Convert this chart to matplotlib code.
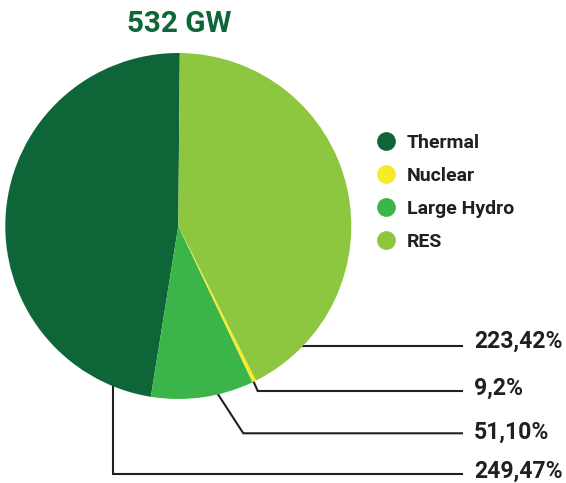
import matplotlib
matplotlib.use("Agg")
import matplotlib.pyplot as plt
from matplotlib.lines import Line2D

# ---- data ----
categories = ["Thermal", "Nuclear", "Large Hydro", "RES"]
capacity_gw = [249, 9, 51, 223]
share_pct = [47, 2, 10, 42]
# slice sizes as drawn in the reference (share of the circle, %)
drawn_share = [47.6, 0.36, 9.6, 42.44]
total_label = "532 GW"
colors = ["#0e6638", "#f6eb2b", "#3bb54a", "#8dc63f"]

W, H = 566, 483
fig = plt.figure(figsize=(W / 100, H / 100), dpi=100)
ax = fig.add_axes([0, 0, 1, 1])

def Y(y):
    return H - y

cx, cy, r = 178.3, 226.0, 173.0

# pie drawn counter-clockwise from the top: Thermal, Large Hydro, Nuclear, RES
order = [0, 2, 1, 3]
wedges, _ = ax.pie([drawn_share[i] for i in order],
                   colors=[colors[i] for i in order],
                   startangle=89.5, counterclock=True,
                   center=(cx, Y(cy)), radius=r,
                   wedgeprops=dict(linewidth=0, zorder=3))

ax.set_xlim(0, W)
ax.set_ylim(0, H)
ax.set_aspect("equal")
ax.axis("off")

# title
ax.text(179, Y(24), total_label, ha="center", va="center",
        fontsize=21.3, fontweight="bold", color="#0e6638", family="Roboto")

# leader lines and labels
line_kw = dict(color="#231f20", lw=1.5, zorder=2, solid_joinstyle="miter")
x_end, x_text = 462, 474
leaders = {
    "RES":         ([290, x_end], [346, 346], 341),
    "Nuclear":     ([252, 257.7, x_end], [378, 391, 391], 388),
    "Large Hydro": ([212, 243.3, x_end], [385, 433.3, 433.3], 432),
    "Thermal":     ([113.3, 113.3, x_end], [380, 474, 474], 471),
}
for name in ["RES", "Nuclear", "Large Hydro", "Thermal"]:
    i = categories.index(name)
    xs, ys, ty = leaders[name]
    ax.plot(xs, [Y(v) for v in ys], **line_kw)
    ax.text(x_text, Y(ty), f"{capacity_gw[i]},{share_pct[i]}%", ha="left",
            va="center", fontsize=16.6, fontweight="bold", color="#231f20",
            family="Roboto")

# legend
handles = [Line2D([], [], marker="o", linestyle="none", markersize=13.5,
                  markerfacecolor=c, markeredgewidth=0) for c in colors]
leg = ax.legend(handles, categories, loc="upper left",
                bbox_to_anchor=(376 / W, 1 - 134 / H), frameon=False,
                prop=dict(family="Roboto", weight="bold", size=14),
                labelcolor="#231f20", handlelength=1.0, handletextpad=0.6,
                labelspacing=0.77, borderpad=0, borderaxespad=0)

fig.savefig("out.png", dpi=100, facecolor="white")
